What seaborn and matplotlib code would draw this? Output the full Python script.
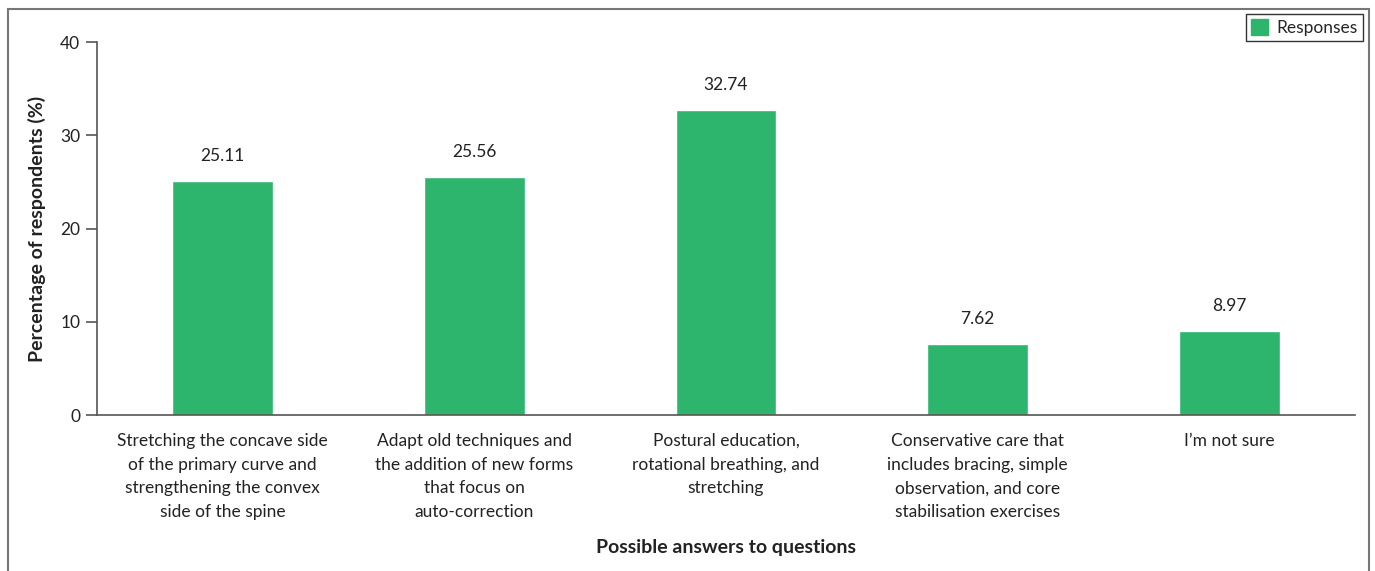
import pandas as pd
import seaborn as sns
import matplotlib.pyplot as plt
from matplotlib.patches import Rectangle, Patch

# Chart data
categories = [
    "Stretching the concave side\nof the primary curve and\nstrengthening the convex\nside of the spine",
    "Adapt old techniques and\nthe addition of new forms\nthat focus on\nauto-correction",
    "Postural education,\nrotational breathing, and\nstretching",
    "Conservative care that\nincludes bracing, simple\nobservation, and core\nstabilisation exercises",
    "I\u2019m not sure",
]
percentages = [25.11, 25.56, 32.74, 7.62, 8.97]
value_labels = ["25.11", "25.56", "32.74", "7.62", "8.97"]

df = pd.DataFrame({"answer": categories, "pct": percentages})

sns.set_theme(style="white")
plt.rcParams['font.family'] = ['Lato', 'DejaVu Sans']

green = "#2db56e"
dark = "#555555"
txt = "#222222"

fig = plt.figure(figsize=(13.75, 5.71), dpi=100)
ax = fig.add_axes([0.0705, 0.2732, 0.915, 0.6532])

sns.barplot(data=df, x="answer", y="pct", color=green, width=0.4,
            saturation=1, ax=ax)

for i, (v, lab) in enumerate(zip(percentages, value_labels)):
    ax.annotate(lab, (i, v), xytext=(0, 18), textcoords="offset points",
                ha="center", va="center", fontsize=12.5, color=txt)

ax.set_ylim(0, 40)
ax.set_xlim(-0.5, len(categories) - 0.5)
ax.set_yticks([0, 10, 20, 30, 40])
ax.set_xticks(range(len(categories)))
ax.set_xticklabels(categories, fontsize=12.5, color=txt, linespacing=1.58,
                   va="top")
ax.set_xticks([i - 0.5 for i in range(len(categories) + 1)], minor=True)
ax.tick_params(axis="x", which="major", length=0, pad=13)
ax.tick_params(axis="x", which="minor", length=9, width=1.2, color=dark, direction="out")
ax.tick_params(axis="y", length=8, width=1.2, color=dark, labelsize=12.5,
               labelcolor=txt, pad=4, direction="out", left=True)

for side in ["top", "right"]:
    ax.spines[side].set_visible(False)
for side in ["left", "bottom"]:
    ax.spines[side].set_color(dark)
    ax.spines[side].set_linewidth(1.2)

ax.set_xlabel("Possible answers to questions", fontsize=14, fontweight="bold",
              color=txt, labelpad=14)
ax.set_ylabel("Percentage of respondents (%)", fontsize=14, fontweight="bold",
              color=txt, labelpad=10)

# legend
handle = Patch(facecolor=green, edgecolor=green, label="Responses")
fig.legend(handles=[handle], loc="upper right", bbox_to_anchor=(0.9915, 0.975),
           fontsize=12.5, frameon=True, fancybox=False, edgecolor="#333333",
           handlelength=1.0, handleheight=1.0, handletextpad=0.5,
           borderpad=0.3, framealpha=1, borderaxespad=0)

# outer frame
fig.patches.append(Rectangle((8 / 1375, -0.05), (1369 - 8) / 1375, 1.05 - 9 / 571,
                             transform=fig.transFigure, fill=False,
                             edgecolor="#777777", linewidth=1.5))

fig.savefig("out.png", dpi=100)
